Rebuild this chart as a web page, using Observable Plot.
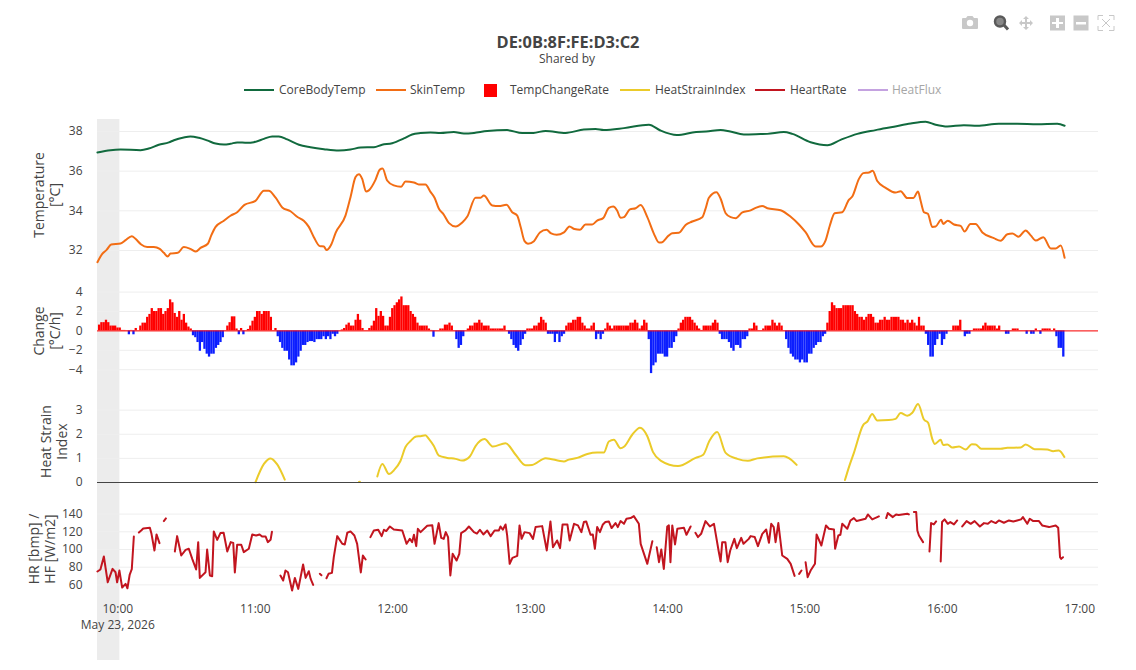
<!DOCTYPE html>
<html><head><meta charset="utf-8">
<script src="https://cdn.jsdelivr.net/npm/d3@7"></script>
<script src="https://cdn.jsdelivr.net/npm/@observablehq/plot@0.6"></script>
<style>
html,body{margin:0;padding:0;background:#fff}
#chart{position:relative;width:1136px;height:670px;overflow:hidden;font-family:"Open Sans",sans-serif;color:#444}
#chart>svg,#chart>.layer{position:absolute;left:0}
.t{position:absolute;white-space:nowrap;line-height:1}
.sw{position:absolute;height:2px;width:30px}
</style></head><body><div id="chart"></div>
<script>
// All series: [minutes after 10:00, value]; null = gap in the recording.
const coreBodyTemp = [[-9.2,36.94],[-3.5,37.06],[.9,37.09],[9.6,37.06],[13.2,37.14],[17.6,37.33],[22,37.45],[24.2,37.56],[28.5,37.7],[31.4,37.75],[35.1,37.68],[38.7,37.55],[42.4,37.39],[46,37.34],[48.9,37.38],[51.8,37.45],[56.2,37.43],[59.1,37.46],[63.5,37.63],[67.1,37.75],[70,37.75],[73.7,37.6],[78.8,37.33],[83.8,37.21],[89.7,37.11],[96.2,37.04],[101.3,37.09],[105.7,37.19],[111.5,37.21],[115.1,37.33],[119.5,37.41],[124.6,37.65],[128.2,37.85],[131.9,37.92],[136.2,37.95],[140.6,37.93],[146.4,37.98],[150.8,37.9],[155.2,37.93],[161,38.03],[169.7,38.07],[176.3,37.92],[181.2,37.93],[186.5,38.03],[195.2,37.93],[203.2,38.1],[208.3,38.13],[211.9,38.08],[220.7,38.17],[231.6,38.34],[236.6,38.05],[243.8,37.82],[252.2,37.98],[256.6,38],[262.9,38.08],[267.1,38],[273,37.85],[280.3,37.87],[283.3,37.88],[290.5,37.97],[294.2,37.88],[302.2,37.46],[309.5,37.31],[315.3,37.58],[322.6,37.88],[330.6,38.07],[338.6,38.24],[345.9,38.4],[352.4,38.49],[356.8,38.34],[361.9,38.25],[369.1,38.32],[375,38.29],[384.4,38.39],[392.4,38.39],[401.2,38.37],[409.9,38.39],[413.1,38.29]];
const skinTemp = [[-9.2,31.41],[-7.1,31.83],[-5.2,32.03],[-3.2,32.3],[.9,32.35],[3.1,32.52],[5.8,32.72],[7.4,32.59],[9.9,32.3],[12.5,32.18],[15.4,32.18],[18,32.08],[19.8,31.88],[21.5,31.7],[22.7,31.85],[25.9,31.88],[28.5,32.17],[31.4,32.08],[33.8,31.95],[35.8,32.13],[39,32.34],[40.5,32.76],[42.4,33.19],[46,33.5],[48.9,33.75],[51.8,33.93],[55,34.3],[59.8,34.5],[63.5,35.01],[65.6,35.01],[68.6,34.66],[71.5,34.17],[75.1,33.98],[78,33.7],[80.9,33.5],[83.1,33.19],[85.3,32.67],[87.9,32.22],[89.7,32.2],[90.8,32.02],[92.9,32.3],[94.8,32.89],[99.1,33.76],[101.3,34.69],[103.5,35.7],[105,35.85],[106.4,35.61],[108.1,34.97],[109.3,35.03],[112.2,35.56],[114.1,36.08],[115.3,36.13],[117.3,35.53],[120.2,35.28],[123.4,35.21],[125.3,35.48],[129,35.43],[131.1,35.33],[134,35.33],[136.3,34.94],[138,34.66],[139.9,34.1],[141.8,33.85],[144.3,33.38],[147.2,33.21],[150.1,33.41],[152.3,33.71],[155.9,34.66],[158.1,34.66],[159.5,34.77],[163.2,34.27],[166.1,34.24],[169.4,34.3],[171.9,33.93],[174.1,33.76],[175.6,33.18],[177.3,32.47],[178.8,32.34],[181.4,32.47],[184,32.91],[186.9,33.04],[188.9,32.86],[191.3,32.79],[194.5,32.91],[196.9,33.21],[199.1,33.08],[201.5,33.04],[203.9,33.31],[206.8,33.31],[209,33.51],[211.6,33.63],[214.1,34.15],[216,34.22],[217.7,34.02],[219.2,33.65],[220.7,33.68],[223.3,34.07],[225.8,34.13],[228,34.29],[230.9,33.68],[233.8,32.84],[236,32.4],[237,32.4],[240.3,32.76],[241.8,32.87],[244.7,32.89],[247.6,33.29],[250.5,33.46],[254.9,33.68],[256.3,34.1],[257.8,34.66],[261.1,34.94],[262.9,34.61],[265.1,33.88],[267.3,33.68],[269.5,33.63],[272.4,33.92],[276,34.02],[278.2,34.15],[281.1,34.24],[283.3,34.13],[289.1,34.03],[293.5,33.7],[297.1,33.31],[300,32.92],[304.4,32.2],[306.6,32.2],[308.7,32.5],[310.6,33.26],[312.7,33.88],[316,33.93],[318.9,34.55],[320.4,34.72],[323.3,35.61],[325.2,35.9],[327.7,35.93],[329.3,36.02],[331.3,35.5],[335,35.16],[339.3,34.92],[341.5,34.99],[344.4,34.64],[347,34.64],[349.1,34.97],[350.2,34.52],[351.7,33.93],[353.4,33.85],[355.3,33.19],[356.8,33.21],[359.2,33.55],[360.1,33.34],[362.1,33.5],[364.8,33.31],[367.7,33.24],[369.4,32.96],[372,33.34],[374.2,33.34],[377.2,32.91],[382.2,32.62],[385.2,32.49],[388.1,32.82],[390.3,32.86],[392.9,32.69],[396.1,33.01],[398.3,32.76],[400.5,32.5],[403.8,32.67],[407.1,32.1],[409.2,32.1],[411.4,32.25],[413.1,31.63]];
// One bar per minute, first bar starting at rateStart minutes.
const rateStart = -8.75;
const tempChangeRate = [.6,.85,.85,1.1,.85,.5,.5,.5,.3,.3,.05,.05,.03,-.4,.05,-.4,.25,.02,.5,.8,.8,1.4,1.7,2.3,2,2,2.3,2.3,1.7,2,2.3,3.2,2.9,1.8,1.4,2,1.1,1.7,.8,.4,.2,
-.5,-.7,-1.2,-2.1,-1.2,-1.9,-2.4,-2.7,-2.4,-2.4,-1.8,-1.5,-1.2,-.7,.03,.5,.85,1.45,1.45,.2,-.4,.25,-.4,.03,.15,.5,1,1.4,2,2,1.7,2,2,2,1.4,.03,.25,
-.6,-1.2,-1.8,-2.1,-2.1,-3,-3.6,-3.6,-3.3,-2.7,-2.1,-1.5,-1.5,-1.2,-1.1,-1.1,-1.2,-.9,-.9,-.9,-.6,-.9,-.6,-.9,-.35,-.6,-.35,.03,.1,.25,.6,.8,.5,.5,1.1,1.7,1.1,.25,.03,.03,.25,.5,1,2.3,1.5,2,1.5,.5,.5,1.4,2.3,2.6,2.9,3.2,3.5,2.6,2.6,2.6,2,1.7,1.4,.8,.5,.5,.5,.5,.2,
.05,-.65,.03,.03,.2,.2,.6,.6,.8,.5,.03,-.9,-1.8,-1.5,-.6,.03,.2,.5,.5,.8,.8,1.1,.8,.5,.5,.5,.2,.2,.2,.2,.2,.2,.5,.03,-.35,-.9,-1.5,-1.8,-2.1,-1.5,-.9,-.35,.2,.2,.2,.5,.5,.8,1.4,1.1,.8,-.35,-.35,-.35,-1.2,-.35,-1.2,-.6,-.35,.5,.8,.8,1.1,1.1,1.4,1.4,.8,.5,.2,.2,.5,.8,-.9,-.35,-.9,-.35,.2,.8,.5,.2,.5,.5,.5,.5,.5,.5,.5,.8,.8,1.1,.8,.2,.5,1.1,.8,
-.9,-4.4,-3.6,-3.3,-2.4,-2.4,-2.4,-2.7,-2.7,-1.8,-1.8,-1.2,-.6,.2,.8,1.1,1.4,1.4,1.4,1.1,.8,.5,.2,.05,.5,.5,.5,.5,.8,1.1,.8,-.35,-.9,-.9,-.9,-1.2,-1.8,-2.1,-1.5,-1.5,-1.8,-.9,-.9,-.6,.2,.2,.8,.5,.03,.03,.2,.5,.5,.5,1.1,.8,.5,.8,.5,.03,
-.9,-1.8,-2.4,-2.7,-3,-3,-3.3,-3,-3.3,-3.3,-2.4,-2.4,-1.8,-1.5,-1.2,-1.2,-.6,-.35,.8,2,2.9,2.6,2.3,2.3,2.3,2.6,2.6,2.6,2.6,2.6,2,1.7,1.4,1.4,1.1,1.4,1.7,1.7,1.4,.8,.8,1.1,1.1,1.4,1.1,1.1,1.4,1.4,1.4,1.4,1.1,1.1,.8,1.1,.8,1.1,.8,.5,1.4,.5,.5,
-.35,-1.5,-2.7,-2.7,-1.5,-.9,-.35,-1.5,-.9,-.35,.03,.03,.5,.5,.5,1.1,.03,-.6,-.35,-.35,.03,.2,.2,.2,.2,.5,.8,.5,.5,.5,.5,.2,.5,.03,.03,-.35,-.35,.03,.2,.2,.2,.03,.03,.03,-.35,.03,-.35,-.35,.2,.03,-.35,.2,.2,.2,.2,.03,.2,-.6,-1.8,-1.8,-2.7];
const heatStrainIndex = [[59.8,.01],[63.5,.77],[66.4,1],[69.3,.75],[72.6,.12],[85,null],[105,.02],[105.4,.03],[109,null],[113,.25],[115.2,.77],[118.1,.35],[120.2,.5],[123.1,.89],[125.3,1.47],[127.5,1.72],[130,1.91],[131.9,1.92],[134,1.96],[135.5,1.81],[137.7,1.51],[139.9,1.11],[143.5,1.02],[147.2,.98],[150,.91],[153.4,1.08],[155.9,1.51],[159.8,1.8],[163.5,1.49],[169,1.63],[173.4,1.15],[177.7,.72],[180.6,.73],[186.5,1.01],[194.5,.87],[196.6,.95],[200.3,1.02],[204.7,1.18],[209,1.24],[211.9,1.24],[214.1,1.7],[216.3,1.77],[219.2,1.42],[220.7,1.48],[224.3,1.98],[227.7,2.27],[230.9,1.92],[233.4,1.26],[236.7,.91],[244.3,.68],[252,1.02],[255.3,1.15],[258.1,1.74],[261.4,2.09],[265.1,1.23],[270.2,.98],[274.8,.9],[278.9,1],[290.5,1.09],[292.7,1.01],[296.1,.73],[305,null],[317.2,.1],[319,.66],[321.1,1.23],[325.2,2.39],[327,2.53],[329.1,2.84],[331.3,2.57],[336.3,2.59],[339.3,2.64],[341.5,2.88],[344.4,2.77],[346.6,2.89],[349.1,3.25],[351.7,2.61],[353.5,2.48],[355.3,1.81],[356.4,1.6],[359,1.77],[360.1,1.55],[361.9,1.58],[364.1,1.45],[367,1.49],[369.9,1.37],[372.6,1.59],[374.3,1.58],[376.7,1.4],[385.2,1.4],[388.1,1.44],[393.9,1.45],[396.1,1.58],[400,1.38],[405.5,1.37],[408.1,1.3],[410.6,1.33],[413,1.06]];
const heartRate = [[-9.2,75.1],[-7.9,77.4],[-6.4,92.1],[-4.7,63],[-2.6,78.1],[-1.3,74.3],[-.6,63],[.4,76.2],[1.6,57],[3.1,61.1],[3.9,56.2],[4.9,71.7],[5.8,77.7],[6.7,114.7],[7.8,null],[8.9,119.2],[9.9,121.5],[10.8,123.8],[13.7,124.5],[14.4,117.7],[15.7,98.9],[16.6,117],[17.9,107.2],[18.8,null],[19.8,132.1],[20.7,135.1],[22,null],
[24.6,97.7],[25.6,115.1],[27.4,93.2],[29.3,99.6],[30.7,100.8],[32.2,89.4],[33.9,77.4],[34.8,108.3],[35.5,67.9],[38,74.3],[38.7,100],[39.9,70.6],[40.9,69.8],[41.6,120.4],[43.1,110.9],[44.5,118.5],[45.9,118.9],[47.5,97.7],[49,108.3],[50.1,107.5],[50.8,74],[51.8,105.3],[53.6,105.3],[54.7,97],[56.9,100.8],[58.4,117],[60.1,115.8],[61.6,117],[62.7,114.7],[64.2,114.7],[65.2,108.3],[66.4,110.9],[67,120],[69,null],
[70.7,70.6],[71.9,64.9],[72.9,76.2],[74,74.3],[75.8,53.6],[77,67.9],[78.5,55.5],[80.6,83],[81.7,67.9],[83.1,75.5],[83.9,66.8],[85,60],[86.5,null],[87.9,72.5],[88.6,70.9],[90,null],
[90.8,67.5],[91.7,72.5],[93.2,73.6],[94,91.3],[95.5,115.1],[97.7,106.4],[98.8,105.7],[99.9,118.9],[101.3,120.4],[103,115.8],[104.2,106.4],[105.8,74],[106.7,93.2],[107.9,88.7],[109,null],
[110,114],[111.5,121.5],[113.4,122.3],[114.9,115.1],[115.9,122.3],[116.9,120.8],[118.5,126],[120.2,122.6],[123.9,121.5],[125.8,106.4],[127.2,112.1],[128.2,108.3],[129,116.6],[130,103.8],[130.7,123.4],[131.9,119.6],[134.8,126.8],[137,127.5],[138,106.4],[139.8,129.8],[140.9,113.2],[142,112],[142.9,119.6],[143.9,114],[144.9,70.6],[145.9,95.1],[147.6,87.5],[148.8,95.1],[149.6,118.5],[151.5,121.5],[153,126],[155.2,119.6],[156.5,118],[157.8,122.3],[159.3,117],[161,121.5],[162.5,115.1],[164.2,121.5],[166.1,121.5],[166.8,126],[167.8,122.3],[169,128.3],[169.7,116],[170.8,83.8],[172,90.6],[174.1,92.8],[175.1,127.2],[176,112],[177.3,119.6],[179.5,118.5],[181,112],[182.1,125.3],[185,126.4],[187,98.9],[188.6,131.7],[189.7,102.6],[191.5,110.2],[192.8,101.5],[193.9,128.3],[196,128.3],[197,110.2],[198.9,129],[200.6,127.2],[202.1,119.6],[203.2,131],[204.2,131.7],[206.1,116.6],[207.1,117],[208,100.8],[209,125.3],[210.2,119.6],[211.5,128.3],[212.6,131],[214.1,131.7],[215.3,124.2],[217,129.8],[218,125.3],[219.2,132.1],[220.7,129],[221.8,134.7],[223.6,135.5],[225,137.7],[227.2,129],[228,106.4],[230.9,83.8],[233.1,109.4],[234,null],
[235,102.6],[236,85.7],[237,100],[238.1,78.1],[239.6,126],[240.3,127.2],[241,85.7],[241.8,127.2],[243,105.7],[244,123.4],[246.9,124.5],[248,116.6],[249.8,126],[251,null],
[251.9,118.9],[253,114],[254.4,117.7],[256.3,132.1],[258.2,126],[260,129],[262,98.9],[262.9,86.4],[263.6,108.3],[265,108.3],[266,85.7],[267.1,98.9],[268.9,112],[270,101.5],[271.9,113.2],[272.9,106.4],[275.2,112],[276,115.1],[277.8,114],[279.2,103.8],[281.1,117.7],[282.8,122.6],[284,107.5],[285,129],[286.1,125.3],[286.9,108.3],[288.1,129.8],[289.8,93.2],[292,89.4],[293.5,83.8],[295.2,70.2],[296.2,null],[297.2,72.5],[298.2,76.2],[299,null],
[300,85.7],[300.9,68.7],[302.2,76.2],[304.1,83.8],[304.8,117],[306.9,104.5],[308.9,127.2],[310.2,123.4],[312.4,122.6],[312.9,100.8],[314.3,115.8],[315.2,116.6],[316,129],[318.2,123.4],[319.6,132.8],[321.1,135.5],[322.3,132.1],[326.2,134.7],[327.2,139.6],[329.1,134],[332,137.4],[333.5,null],
[335.2,135.5],[335.9,141.1],[338.1,136.6],[339.5,139.6],[340.7,138.9],[344.4,140.4],[345.1,139.6],[346,null],[347.3,142.3],[348.3,142.3],[348.8,121.5],[349.5,115.8],[351.3,108.3],[352.5,null],
[354.1,97.7],[354.8,129.8],[356,128.3],[357,131.7],[358,null],[359,86.4],[359.6,131],[360.7,134],[362.1,129],[363.2,131],[364.8,128.3],[366.2,132.8],[367.3,null],
[368.4,126],[370.3,132.1],[372.1,129],[373.8,132.1],[376.1,126],[377.9,129.8],[379.6,129],[381.1,132.1],[383,129.8],[384.4,132.8],[386.6,130.2],[388.8,132.8],[390.7,131.7],[392.4,132.8],[394.1,134],[394.9,136.6],[396.8,129],[397.9,134.7],[399.4,132.1],[401.9,132.1],[403.3,127.2],[406.3,125.3],[409.2,127.2],[410.3,124.5],[411.1,91.3],[411.6,89.4],[412.4,91.3]];

const hourTicks = [0,60,120,180,240,300,360,420];
const hourLabels = ["10:00\nMay 23, 2026","11:00","12:00","13:00","14:00","15:00","16:00","17:00"];
const xDomainMin = [-9.17,427.9];
const bandMin = [-9.17,0.6];
const legendItems = ["CoreBodyTemp","SkinTemp","TempChangeRate","HeatStrainIndex","HeartRate","HeatFlux"];
const colors = {core:"#116a3e",skin:"#f26d14",pos:"#ff0000",neg:"#0c1eff",hsi:"#ebcb2a",hr:"#c2151f",flux:"#c4a2e0"};

const at = m => new Date(Date.UTC(2026,4,23,10,0,0)+m*60000);
const rows = a => a.map(([m,v]) => ({t:at(m),v}));
const root = document.getElementById("chart");
const xScale = {type:"utc",domain:xDomainMin.map(at)};
const FONT = '"Open Sans",sans-serif';

// full-height shaded band behind every panel
const back = Plot.plot({width:1136,height:670,marginLeft:97,marginRight:38,marginTop:119,marginBottom:10,
  x:{...xScale,axis:null},style:{background:"transparent"},
  marks:[Plot.rect([bandMin],{x1:d=>at(d[0]),x2:d=>at(d[1]),fill:"#ececec"})]});
back.style.top="0px"; root.append(back);

function panel({top,bottom,mb=8,domain,ticks,tickFormat,label,dx,marks,xAxis=false}){
  const mt=8;
  const p = Plot.plot({width:1136,height:bottom-top+mb+mt,marginLeft:97,marginRight:38,marginTop:mt,marginBottom:mb,
    x:{...xScale,axis:null},y:{domain,axis:null,clamp:false},
    style:{background:"transparent",fontFamily:FONT,fontSize:"12px",color:"#444"},
    marks:[
      Plot.gridY(ticks,{stroke:"#eeeeee",strokeOpacity:1,strokeWidth:1}),
      Plot.axisY({ticks,tickFormat,tickSize:0,tickPadding:15,label:null,fontSize:12,fill:"#444"}),
      Plot.text([label],{frameAnchor:"left",rotate:-90,dx,fontSize:14,lineHeight:1.15,fill:"#444",textAnchor:"middle"}),
      ...marks,
      ...(xAxis?[Plot.axisX({ticks:hourTicks.map(at),tickSize:0,tickPadding:9,label:null,fontSize:12,lineHeight:1.33,fill:"#444",dx:-0.7,
        tickFormat:d=>hourLabels[hourTicks.indexOf((d-at(0))/60000)]})]:[])
    ]});
  p.style.top=(top-mt)+"px"; root.append(p); return p;
}
const line=(a,stroke,curve)=>Plot.line(rows(a),{x:"t",y:"v",stroke,strokeWidth:2,curve,strokeLinejoin:"round"});

panel({top:119,bottom:270,domain:[30.99,38.605],ticks:[32,34,36,38],label:"Temperature\n[°C]",dx:-50.5,
  marks:[line(coreBodyTemp,colors.core,"monotone-x"),line(skinTemp,colors.skin,"monotone-x")]});

const bars = tempChangeRate.map((v,i)=>({x1:at(rateStart+i),x2:at(rateStart+i+1),v}));
panel({top:285,bottom:376,domain:[-4.7,4.68],ticks:[-4,-2,0,2,4],label:"Change\n[°C/h]",dx:-50.5,
  marks:[
    Plot.rectY(bars,{x1:"x1",x2:"x2",y:"v",fill:d=>d.v>=0?colors.pos:colors.neg}),
    Plot.ruleY([0],{stroke:colors.pos,strokeWidth:1})
  ]});

panel({top:400,bottom:482,domain:[0,3.4],ticks:[0,1,2,3],tickFormat:"d",label:"Heat Strain\nIndex",dx:-43.5,
  marks:[line(heatStrainIndex,colors.hsi,"monotone-x"),Plot.ruleY([0],{stroke:"#444",strokeWidth:1})]});

panel({top:505,bottom:592,mb:50,domain:[51.4,149.7],ticks:[60,80,100,120,140],label:"HR [bmp] /\nHF [W/m2]",dx:-56,xAxis:true,
  marks:[line(heartRate,colors.hr,"linear")]});

// title
function txt(s,x,y,css){const e=document.createElement("div");e.className="t";e.textContent=s;e.style.cssText=`left:${x}px;top:${y}px;${css}`;root.append(e);return e;}
txt("DE:0B:8F:FE:D3:C2",0,34,"width:1136px;text-align:center;font-size:16.4px;font-weight:700;color:#444");
txt("Shared by",0,53,"width:1134px;text-align:center;font-size:12px;color:#444");

// legend
const legendStyle = [[244,279,colors.core],[376,410,colors.skin],[484,510,colors.pos],[620,655,colors.hsi],[755,790,colors.hr],[858,892,colors.flux]];
legendItems.forEach((s,i)=>{
  const [sx,tx,c]=legendStyle[i];
  const e=document.createElement("div");
  e.className="sw";
  e.style.cssText = c===colors.pos ? `left:${sx}px;top:84px;width:13px;height:13px;background:${c}` : `left:${sx}px;top:89px;background:${c}`;
  root.append(e);
  txt(s,tx,84,`font-size:12px;color:${i===5?"#a6a6a6":"#444"}`);
});

// toolbar icons
const bar=document.createElementNS("http://www.w3.org/2000/svg","svg");
bar.setAttribute("width",170);bar.setAttribute("height",24);bar.setAttribute("viewBox","0 0 170 24");
bar.style.cssText="position:absolute;left:960px;top:10px";
bar.innerHTML=`
<g fill="#c8c8c8">
<path d="M3 8h3l1.500-2h5L14 8h3a1 1 0 0 1 1 1v9a1 1 0 0 1-1 1H3a1 1 0 0 1-1-1V9a1 1 0 0 1 1-1z"/><circle cx="10" cy="13" r="3.200" fill="#fff"/>
<path d="M66 6l3 3h-2v3h3v-2l3 3-3 3v-2h-3v3h2l-3 3-3-3h2v-3h-3v2l-3-3 3-3v2h3V9h-2z"/>
<path d="M90 5.500h15v15H90zM96 8v4h-4v2h4v4h3v-4h4v-2h-4V8z" fill-rule="evenodd"/>
<path d="M113.500 5.500h15v15h-15zM116 12v2.500h10V12z" fill-rule="evenodd"/>
</g>
<g fill="none" stroke="#c8c8c8" stroke-width="1"><path d="M138 10V5.500h5M149 5.500h5V10M154 16v4.500h-5M143 20.500h-5V16M142 9l8 8M150 9l-8 8"/></g>
<circle cx="40" cy="11.500" r="5" fill="#888" stroke="#5a5a5a" stroke-width="2.500"/><path d="M44 15l4 4.500" stroke="#5a5a5a" stroke-width="3"/>`;
root.append(bar);
</script></body></html>
